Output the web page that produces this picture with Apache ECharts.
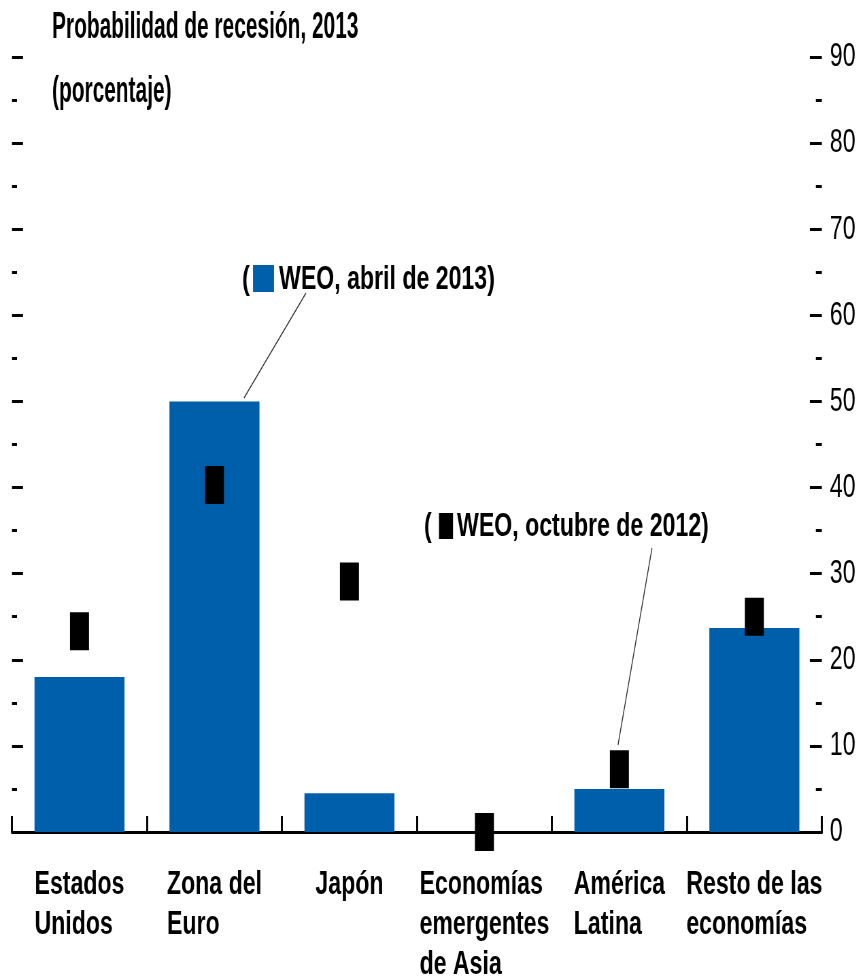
<!DOCTYPE html>
<html>
<head>
<meta charset="utf-8">
<script src="https://cdn.jsdelivr.net/npm/echarts@6/dist/echarts.min.js"></script>
<style>
  html, body { margin: 0; padding: 0; background: #fff; overflow: hidden; }
  #wrap { width: 859px; height: 979px; overflow: hidden; }
  #chart { height: 979px; transform-origin: 0 0; }
</style>
</head>
<body>
<div id="wrap"><div id="chart"></div></div>
<script>
// categorias del eje x
const categories = ['Estados\nUnidos', 'Zona del\nEuro', 'Japón', 'Economías\nemergentes\nde Asia', 'América\nLatina', 'Resto de las\neconomías'];
// WEO, abril de 2013 (barras)
const weoAbril2013 = [18, 50, 4.5, 0, 5, 23.7];
// WEO, octubre de 2012 (marcadores)
const weoOctubre2012 = [23.3, 40.3, 29.1, 0, 7.3, 25];
// escala del eje y
const yMin = 0, yMax = 90, yStep = 10;

// el original usa una letra condensada: se dibuja ancho y se comprime en x
const S = 0.68;
const px = v => v / S;
const FONT = '"Liberation Sans", Arial, sans-serif';
const BLUE = '#005FAB';

var dom = document.getElementById('chart');
dom.style.width = px(859) + 'px';
dom.style.transform = 'scaleX(' + S + ')';
var chart = echarts.init(dom);

function valueAxis(pos, showLabel){
  return {
    type: 'value', position: pos, min: yMin, max: yMax, interval: yStep,
    axisLine: { show: false },
    axisTick: { show: true, inside: true, length: px(pos === 'left' ? 11 : 12), lineStyle: { color: '#000', width: 3 } },
    minorTick: { show: true, splitNumber: 2, length: px(pos === 'left' ? 5 : 6), lineStyle: { color: '#000', width: 3 } },
    splitLine: { show: false },
    axisLabel: { show: showLabel, margin: px(8), color: '#000', fontFamily: FONT, fontSize: 34 }
  };
}

chart.setOption({
  animation: false,
  backgroundColor: '#fff',
  grid: { left: px(12), right: px(37), top: 57, bottom: 147, outerBoundsMode: 'none' },
  xAxis: {
    type: 'category',
    data: categories,
    axisLine: { lineStyle: { color: '#000', width: 3 } },
    axisTick: { show: true, inside: true, length: 16, interval: 0, lineStyle: { color: '#000', width: px(2) } },
    axisLabel: {
      margin: 33,
      interval: 0,
      formatter: function(v){ return v.split('\n').map(function(s){ return '{l|' + s + '}'; }).join('\n'); },
      rich: { l: { align: 'left', color: '#000', fontFamily: FONT, fontSize: 34, fontWeight: 'bold', lineHeight: 40 } }
    }
  },
  yAxis: [valueAxis('left', false), valueAxis('right', true)],
  series: [
    {
      name: 'WEO, abril de 2013', type: 'bar', data: weoAbril2013,
      barWidth: px(90), itemStyle: { color: BLUE }
    },
    {
      name: 'WEO, octubre de 2012', type: 'scatter', data: weoOctubre2012,
      symbol: 'rect', symbolSize: [px(19), 38], itemStyle: { color: '#000', opacity: 1 }, z: 5
    }
  ],
  graphic: [
    // titulo
    { type: 'text', x: px(52), y: 28, scaleX: 0.83, style: { text: 'Probabilidad de recesión, 2013', fill: '#000', font: 'bold 37px ' + FONT, verticalAlign: 'middle' } },
    { type: 'text', x: px(52), y: 92, scaleX: 0.83, style: { text: '(porcentaje)', fill: '#000', font: 'bold 37px ' + FONT, verticalAlign: 'middle' } },
    // leyenda de barras
    { type: 'text', x: px(242), y: 280, style: { text: '(', fill: '#000', font: 'bold 34px ' + FONT, verticalAlign: 'middle' } },
    { type: 'rect', shape: { x: px(253), y: 265, width: px(21), height: 27 }, style: { fill: BLUE } },
    { type: 'text', x: px(279), y: 280, style: { text: 'WEO, abril de 2013)', fill: '#000', font: 'bold 34px ' + FONT, verticalAlign: 'middle' } },
    { type: 'line', shape: { x1: px(306), y1: 293, x2: px(244), y2: 398 }, style: { stroke: '#333', lineWidth: 1.3 } },
    // leyenda de marcadores
    { type: 'text', x: px(424), y: 527, style: { text: '(', fill: '#000', font: 'bold 34px ' + FONT, verticalAlign: 'middle' } },
    { type: 'rect', shape: { x: px(439), y: 513, width: px(14), height: 26 }, style: { fill: '#000' } },
    { type: 'text', x: px(457), y: 527, style: { text: 'WEO, octubre de 2012)', fill: '#000', font: 'bold 34px ' + FONT, verticalAlign: 'middle' } },
    { type: 'line', shape: { x1: px(652), y1: 548, x2: px(618), y2: 745 }, style: { stroke: '#333', lineWidth: 1.3 } }
  ]
});

window.addEventListener('resize', function(){ chart.resize(); });
</script>
</body>
</html>
